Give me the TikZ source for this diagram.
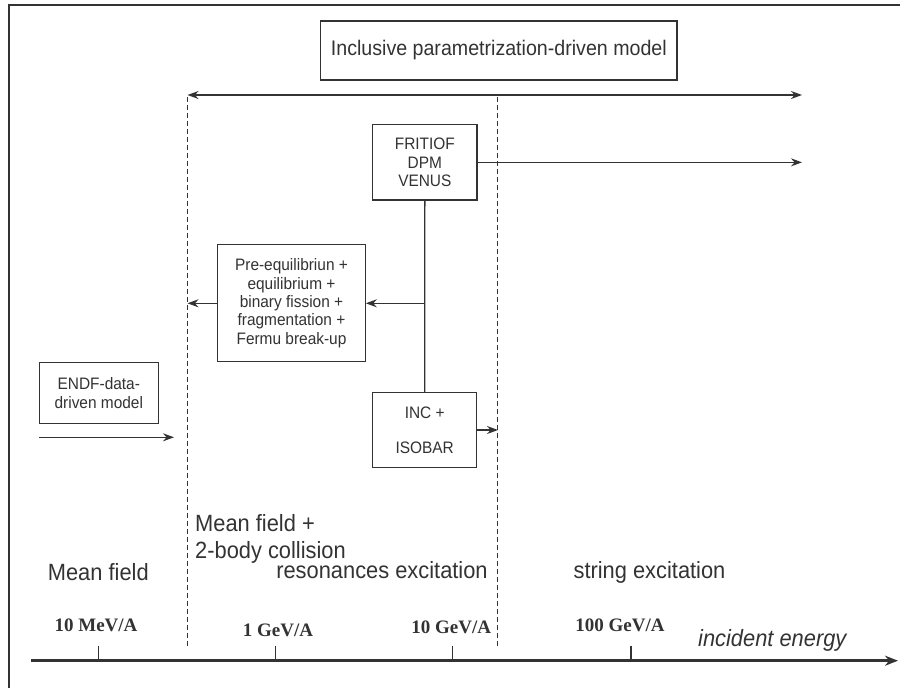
\documentclass[tikz,border=0pt]{standalone}
\usepackage{fontspec}
\setmainfont{Liberation Serif}
\setsansfont{Liberation Sans}[FakeStretch=0.93]
\usetikzlibrary{arrows.meta}
\definecolor{ink}{HTML}{333333}
\begin{document}
\begin{tikzpicture}[x=1pt,y=-1pt,
  every node/.style={text=ink, font=\sffamily},
  boxnode/.style={draw=ink, line width=1.1pt, inner sep=0pt, align=center},
  smalltxt/.style={font=\sffamily\fontsize{16.6}{18.3}\selectfont},
  bigtxt/.style={font=\sffamily\fontsize{23.5}{26.7}\selectfont},
  energy/.style={font=\bfseries\fontsize{19}{22}\selectfont},
  conn/.style={draw=ink, line width=1.3pt},
  arr/.style={conn, -{Stealth[length=11pt,width=8pt]}},
  guide/.style={draw=ink, line width=0.9pt, dash pattern=on 5pt off 3pt},
  tick/.style={draw=ink, line width=1.2pt}
]
\useasboundingbox (0,0) rectangle (900,688);
\fill[white] (0,0) rectangle (900,688);
% frame
\draw[ink, line width=1.2pt] (900,5) -- (9,5) -- (9,688);

% top box
\node[boxnode, smalltxt, font=\sffamily\fontsize{21.1}{24}\selectfont,
  minimum width=356.3pt, minimum height=59pt] (incl) at (498.85,50.5)
  {Inclusive parametrization-driven model};

% double arrow
\coordinate (da) at (187.5,95);
\coordinate (db) at (802,95);
\draw[conn, {Stealth[length=11pt,width=8pt]}-{Stealth[length=11pt,width=8pt]}] (da) -- (db);

% dashed guides
\coordinate (g1t) at (187.5,97);
\coordinate (g1b) at (187.5,646);
\coordinate (g2t) at (497.7,97);
\coordinate (g2b) at (497.7,646);
\draw[guide] (g1t) -- (g1b);
\draw[guide] (g2t) -- (g2b);

% FRITIOF box
\node[boxnode, smalltxt, minimum width=104.3pt, minimum height=75.3pt]
  (frit) at (424.85,162.35) {FRITIOF\\DPM\\VENUS};
\coordinate (fritend) at (802,162.35);
\draw[arr] (frit.east) -- (fritend);

% Pre-equilibrium box
\node[boxnode, smalltxt, minimum width=147.6pt, minimum height=117pt]
  (preq) at (291.5,303.3)
  {Pre-equilibriun +\\equilibrium +\\binary fission +\\fragmentation +\\Fermu break-up};

% INC box
\node[boxnode, smalltxt, minimum width=104pt, minimum height=74.6pt]
  (inc) at (424.7,430) {INC +\\[16.5pt]ISOBAR};

% vertical connector and branches
\draw[conn] (frit.south) -- (inc.north);
\coordinate (junc) at (424.85,303.3);
\draw[arr] (junc) -- (preq.east);
\coordinate (preqend) at (187.5,303.3);
\draw[arr] (preq.west) -- (preqend);
\coordinate (incend) at (498,430);
\draw[arr] (inc.east) -- (incend);

% ENDF box
\node[boxnode, smalltxt, minimum width=119pt, minimum height=60.6pt]
  (endf) at (98.8,393) {ENDF-data-\\driven model};
\coordinate (ea) at (39,437.3);
\coordinate (eb) at (174,437.3);
\draw[arr] (ea) -- (eb);

% region labels
\node[bigtxt, align=left, anchor=north west, inner sep=0pt] (mf2) at (195,514.5)
  {Mean field +\\2-body collision};
\node[bigtxt, anchor=base, inner sep=0pt] (mf) at (98.3,580) {Mean field};
\node[bigtxt, anchor=base, inner sep=0pt] (res) at (382,578) {resonances excitation};
\node[bigtxt, anchor=base, inner sep=0pt] (str) at (649.5,578) {string excitation};

% energy labels
\node[energy, anchor=base, inner sep=0pt] (e1) at (96,631.7) {10 MeV/A};
\node[energy, anchor=base, inner sep=0pt] (e2) at (278,636) {1 GeV/A};
\node[energy, anchor=base, inner sep=0pt] (e3) at (451.3,633) {10 GeV/A};
\node[energy, anchor=base, inner sep=0pt] (e4) at (620,631.7) {100 GeV/A};
\node[bigtxt, font=\sffamily\itshape\fontsize{23.5}{26}\selectfont, anchor=base, inner sep=0pt]
  (ie) at (772.3,646.7) {incident energy};

% axis
\coordinate (ax0) at (31,660.7);
\coordinate (ax1) at (898,660.7);
\draw[draw=ink, line width=3pt, -{Stealth[length=13pt,width=10pt]}] (ax0) -- (ax1);
\foreach \x/\n in {98.7/t1, 275.7/t2, 452.7/t3, 631/t4}{
  \coordinate (\n a) at (\x,645.7);
  \coordinate (\n b) at (\x,660.7);
  \draw[tick] (\n a) -- (\n b);
}
\end{tikzpicture}
\end{document}
